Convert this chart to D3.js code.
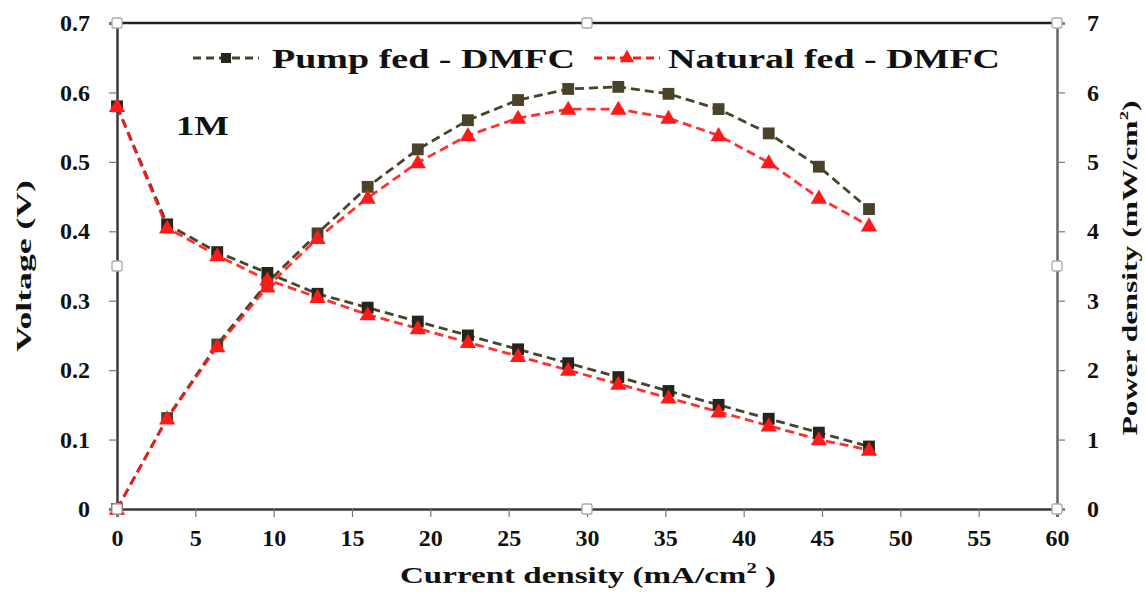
<!DOCTYPE html>
<html>
<head>
<meta charset="utf-8">
<script src="https://cdn.jsdelivr.net/npm/d3@7"></script>
<style>
  html, body { margin: 0; padding: 0; background: #fff; }
  svg { display: block; }
  svg text { font-family: 'Liberation Serif', 'DejaVu Serif', 'Times New Roman', Times, serif !important; font-weight: bold; }
</style>
</head>
<body>
<svg id="chart" width="1145" height="592"></svg>
<script>
// current density (mA/cm2)
const current = [0, 3.2, 6.4, 9.6, 12.8, 16, 19.2, 22.4, 25.6, 28.8, 32, 35.2, 38.4, 41.6, 44.8, 48];

// voltage (V)
const pumpVoltage    = [0.58, 0.41, 0.37, 0.34, 0.31, 0.29, 0.27, 0.25, 0.23, 0.21, 0.19, 0.17, 0.15, 0.13, 0.11, 0.09];
const naturalVoltage = [0.58, 0.405, 0.365, 0.33, 0.305, 0.28, 0.26, 0.24, 0.22, 0.20, 0.18, 0.16, 0.14, 0.12, 0.10, 0.085];

// power density (mW/cm2)
const pumpPower    = [0, 1.31, 2.37, 3.26, 3.97, 4.64, 5.18, 5.6, 5.89, 6.05, 6.08, 5.98, 5.76, 5.41, 4.93, 4.32];
const naturalPower = [0, 1.30, 2.34, 3.2, 3.9, 4.48, 4.99, 5.38, 5.63, 5.76, 5.76, 5.63, 5.38, 4.99, 4.48, 4.08];

const xTicks = [0, 5, 10, 15, 20, 25, 30, 35, 40, 45, 50, 55, 60];
const vTicks = [0, 0.1, 0.2, 0.3, 0.4, 0.5, 0.6, 0.7];
const pTicks = [0, 1, 2, 3, 4, 5, 6, 7];

const legendLabels = ["Pump fed - DMFC", "Natural fed - DMFC"];

const svg = d3.select("#chart");
const margin = { top: 23, right: 88, bottom: 83, left: 117 };
const W = 1145, H = 592;

const x = d3.scaleLinear().domain([0, 60]).range([margin.left, W - margin.right]);
const yV = d3.scaleLinear().domain([0, 0.7]).range([H - margin.bottom, margin.top]);
const yP = d3.scaleLinear().domain([0, 7]).range([H - margin.bottom, margin.top]);

const PUMP = "#4a4329", PUMP_DARK = "#26251c", NAT = "#ff1a1a";

// force a text to a given length
function fit(sel, len) {
  sel.attr("textLength", len).attr("lengthAdjust", "spacingAndGlyphs");
}

// axes
const gx = svg.append("g")
  .attr("transform", `translate(0,${H - margin.bottom})`)
  .call(d3.axisBottom(x).tickValues(xTicks).tickSize(8).tickPadding(12).tickFormat(d3.format("d")));
const gl = svg.append("g")
  .attr("transform", `translate(${margin.left},0)`)
  .call(d3.axisLeft(yV).tickValues(vTicks).tickSize(8).tickPadding(19).tickFormat(d => d === 0 ? "0" : d3.format(".1f")(d)));
const gr = svg.append("g")
  .attr("transform", `translate(${W - margin.right},0)`)
  .call(d3.axisRight(yP).tickValues(pTicks).tickSize(8).tickPadding(22).tickFormat(d3.format("d")));

[gx, gl, gr].forEach(g => {
  g.attr("font-family", null);
  g.select(".domain").attr("stroke", "#3a3a3a").attr("stroke-width", 2.5);
  g.selectAll(".tick line").attr("stroke", "#777").attr("stroke-width", 1.2);
  g.selectAll(".tick text")
    .attr("fill", "#111")
    .style("font-size", "24px");
});
gr.select(".domain").attr("stroke", "#666");

// top border of plot area
svg.append("line")
  .attr("x1", margin.left).attr("x2", W - margin.right)
  .attr("y1", margin.top).attr("y2", margin.top)
  .attr("stroke", "#222").attr("stroke-width", 2.5);

// series lines
const lineV = d3.line().x((d, i) => x(current[i])).y(d => yV(d));
const lineP = d3.line().x((d, i) => x(current[i])).y(d => yP(d));

const series = [
  { data: pumpVoltage, line: lineV, y: yV, color: PUMP, mark: "square", fill: PUMP_DARK },
  { data: pumpPower, line: lineP, y: yP, color: PUMP, mark: "square", fill: PUMP },
  { data: naturalVoltage, line: lineV, y: yV, color: NAT, mark: "triangle", fill: NAT },
  { data: naturalPower, line: lineP, y: yP, color: NAT, mark: "triangle", fill: NAT }
];

const sq = d3.symbol().type(d3.symbolSquare).size(140);
const tri = d3.symbol().type(d3.symbolTriangle).size(115);

series.forEach(s => {
  svg.append("path")
    .attr("d", s.line(s.data))
    .attr("fill", "none")
    .attr("stroke", s.color)
    .attr("stroke-width", 2.8)
    .attr("stroke-dasharray", "9,5")
    .attr("opacity", s.color === NAT ? 0.9 : 1);
});

series.forEach(s => {
  svg.append("g").selectAll("path")
    .data(s.data)
    .enter()
    .append("path")
    .attr("transform", (d, i) => `translate(${x(current[i])},${s.y(d) + (s.mark === "triangle" ? 1 : 0)})`)
    .attr("d", s.mark === "square" ? sq : tri)
    .attr("fill", s.fill);
});

// legend
const leg = svg.append("g").style("font-size", "28px");
const legendItems = [
  { x0: 193, tx: 272, len: 303, label: legendLabels[0], color: PUMP, mark: "square", fill: PUMP_DARK },
  { x0: 594, tx: 668, len: 332, label: legendLabels[1], color: NAT, mark: "triangle", fill: NAT }
];
legendItems.forEach(it => {
  leg.append("line")
    .attr("x1", it.x0).attr("x2", it.x0 + 66)
    .attr("y1", 58).attr("y2", 58)
    .attr("stroke", it.color).attr("stroke-width", 2.8)
    .attr("stroke-dasharray", "8,5");
  leg.append("path")
    .attr("transform", `translate(${it.x0 + 33},58)`)
    .attr("d", it.mark === "square" ? d3.symbol().type(d3.symbolSquare).size(100) : d3.symbol().type(d3.symbolTriangle).size(90))
    .attr("fill", it.fill);
  leg.append("text")
    .attr("x", it.tx).attr("y", 68)
    .attr("fill", "#111")
    .text(it.label)
    .call(fit, it.len);
});

// concentration label
svg.append("text")
  .attr("x", 176).attr("y", 135)
  .style("font-size", "28px")
  .attr("fill", "#111")
  .text("1M")
  .call(fit, 53);

// axis titles
svg.append("text")
  .attr("transform", `translate(31,${(margin.top + H - margin.bottom) / 2}) rotate(-90)`)
  .attr("text-anchor", "middle")
  .style("font-size", "22px")
  .attr("fill", "#111")
  .text("Voltage (V)")
  .call(fit, 172);

const rt = svg.append("text")
  .attr("transform", `translate(1137,268) rotate(-90)`)
  .attr("text-anchor", "middle")
  .style("font-size", "22px")
  .attr("fill", "#111");
rt.append("tspan").text("Power density  (mW/cm");
rt.append("tspan").attr("dy", -9).style("font-size", "13px").text("2");
rt.append("tspan").attr("dy", 9).text(")");
fit(rt, 335);

const bt = svg.append("text")
  .attr("x", 588).attr("y", 583)
  .attr("text-anchor", "middle")
  .style("font-size", "24px")
  .attr("fill", "#111");
bt.append("tspan").text("Current density (mA/cm");
bt.append("tspan").attr("dy", -10).style("font-size", "15px").text("2");
bt.append("tspan").attr("dy", 10).text(" )");
fit(bt, 376);

// selection handles of the chart frame
const xs = [margin.left, (margin.left + W - margin.right) / 2, W - margin.right];
const ys = [margin.top, (margin.top + H - margin.bottom) / 2, H - margin.bottom];
const handles = [];
xs.forEach((hx, i) => ys.forEach((hy, j) => { if (!(i === 1 && j === 1)) handles.push([hx, hy]); }));
svg.append("g").selectAll("rect")
  .data(handles)
  .enter()
  .append("rect")
  .attr("x", d => d[0] - 5).attr("y", d => d[1] - 5)
  .attr("width", 10).attr("height", 10)
  .attr("rx", 2)
  .attr("fill", "#fff")
  .attr("stroke", "#aaa")
  .attr("stroke-width", 1.3);
</script>
</body>
</html>
